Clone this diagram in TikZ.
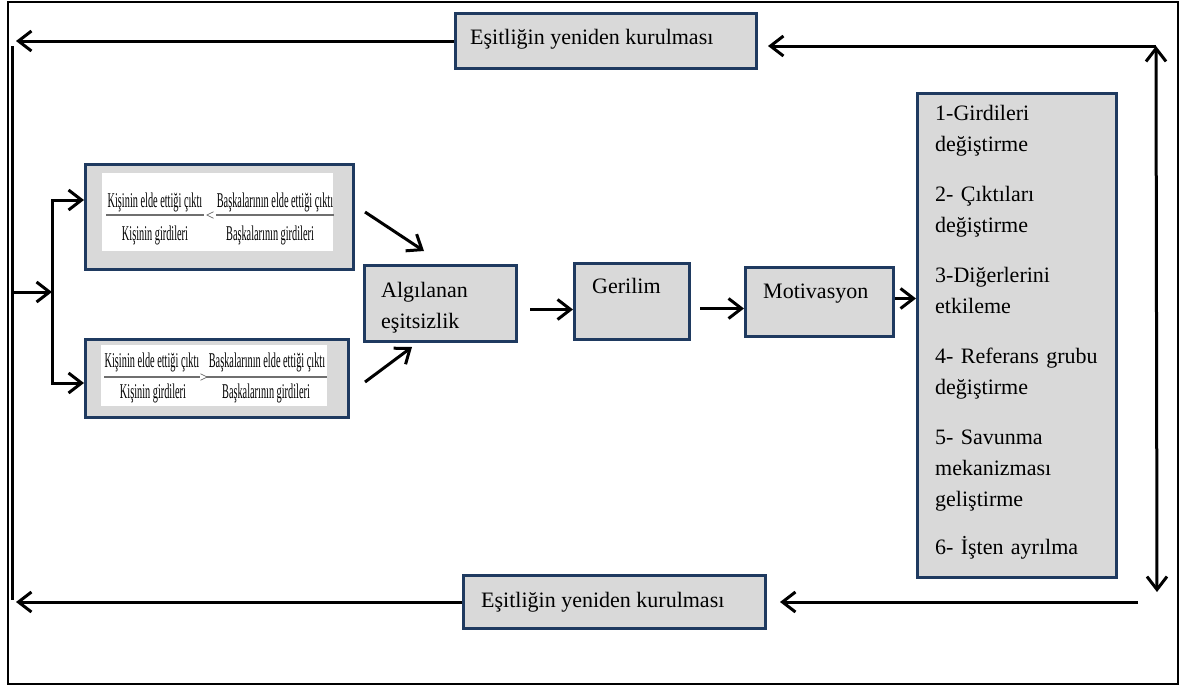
\documentclass[tikz,border=0pt]{standalone}
\usepackage{fontspec}
\setmainfont{Liberation Serif}
\newfontfamily\condfont[FakeStretch=0.49]{Liberation Serif}
\usetikzlibrary{arrows.meta}
\definecolor{boxfill}{HTML}{D9D9D9}
\definecolor{boxline}{HTML}{1F3A60}
\definecolor{barline}{HTML}{6F6F6F}
\tikzset{
  box/.style={draw=boxline, fill=boxfill, line width=3pt, anchor=north west, inner sep=0pt},
  lbl/.style={anchor=base west, inner sep=0pt, font=\fontsize{22}{31}\selectfont},
  tip/.tip={Straight Barb[length=13pt,width=20pt]},
  arr/.style={line width=3pt, -tip},
  dblarr/.style={line width=3pt, tip-tip},
  ln/.style={line width=3pt},
  frac/.style={inner sep=0pt, anchor=base, text=black, font=\condfont\fontsize{21}{20}\selectfont},
  rel/.style={inner sep=0pt, anchor=center, text=black!75, font=\fontsize{15}{15}\selectfont},
  fbar/.style={draw=barline, line width=2pt},
}
\begin{document}
\begin{tikzpicture}[x=1pt, y=-1pt]
\useasboundingbox (0,0) rectangle (1181,686);
% outer frame
\draw[line width=2pt] (8,2) rectangle (1178,684);

% boxes
\node[box, minimum width=301pt, minimum height=55pt] (top) at (454,12) {};
\node[box, minimum width=302pt, minimum height=53pt] (bot) at (462,574) {};
\node[box, minimum width=268pt, minimum height=105pt] (box1) at (84,163) {};
\node[box, minimum width=263pt, minimum height=78pt] (box2) at (84,338) {};
\node[box, minimum width=152pt, minimum height=76pt] (alg) at (363,264) {};
\node[box, minimum width=115pt, minimum height=76pt] (ger) at (573,262) {};
\node[box, minimum width=148pt, minimum height=69pt] (mot) at (744,266) {};
\node[box, minimum width=199pt, minimum height=484pt] (res) at (916,92) {};

% box texts
\node[lbl] (toptxt) at (470,44) {Eşitliğin yeniden kurulması};
\node[lbl] (bottxt) at (481,607) {Eşitliğin yeniden kurulması};
\node[lbl, text width=125pt, align=left] (algtxt) at (381,297) {Algılanan\\eşitsizlik};
\node[lbl] (gertxt) at (592,293) {Gerilim};
\node[lbl] (mottxt) at (763,298) {Motivasyon};
\node[lbl, text width=175pt, align=left] (restxt) at (935,120)
  {1-Girdileri\\değiştirme\\[19pt]
   2- Çıktıları\\değiştirme\\[19pt]
   3-Diğerlerini\\etkileme\\[19pt]
   4- Referans grubu\\değiştirme\\[19pt]
   5- Savunma\\mekanizması\\geliştirme\\[17pt]
   6- İşten ayrılma};

% equity comparison inserts
\fill[white] (102,173) rectangle (333,251);
\node[frac] (n1a) at (155,207) {Kişinin elde ettiği çıktı};
\node[frac] (d1a) at (155,240) {Kişinin girdileri};
\draw[fbar] (106,215) -- (204,215);
\node[rel] (lt) at (210,216) {<};
\node[frac] (n1b) at (275,207) {Başkalarının elde ettiği çıktı};
\node[frac] (d1b) at (270,240) {Başkalarının girdileri};
\draw[fbar] (216,215) -- (334,215);

\fill[white] (101,345) rectangle (327,406);
\node[frac] (n2a) at (152,367) {Kişinin elde ettiği çıktı};
\node[frac] (d2a) at (153,398) {Kişinin girdileri};
\draw[fbar] (104,377) -- (200,377);
\node[rel] (gt) at (204,378) {>};
\node[frac] (n2b) at (267,367) {Başkalarının elde ettiği çıktı};
\node[frac] (d2b) at (266,398) {Başkalarının girdileri};
\draw[fbar] (206,377) -- (327,377);

% free ends of the feedback loop
\coordinate (tl) at (16,42);
\coordinate (lvtop) at (12,46);
\coordinate (lvbot) at (12,600);
\coordinate (bmid) at (52,292);
\coordinate (b1) at (52,200);
\coordinate (b2) at (52,383);
\coordinate (rvt) at (1156,46);
\coordinate (rvb) at (1157,592);
\coordinate (brs) at (1138,602);
\coordinate (d1s) at (365,212);
\coordinate (d1e) at (424,251);
\coordinate (d2s) at (365,382);
\coordinate (d2e) at (412,347);

% feedback loop
\draw[arr] (top.west) -- (top.west -| tl);
\draw[ln] (lvtop) -- (lvbot);
\draw[arr] (bot.west) -- (bot.west -| tl);
\draw[arr] (bmid -| lvtop) -- (bmid);
\draw[arr] (b2) -- (b1) -- (b1 -| box1.west);
\draw[arr] (b1) -- (b2) -- (b2 -| box2.west);
\draw[dblarr] (rvt) -- (rvb);
\draw[arr, shorten >=10pt] (rvt) -- (rvt -| top.east);
\draw[arr, shorten >=13pt] (brs) -- (brs -| bot.east);

% main flow
\draw[arr] (d1s) -- (d1e);
\draw[arr] (d2s) -- (d2e);
\draw[arr, shorten <=12pt] ([yshift=-6pt]alg.east) -- ([yshift=-6pt]alg.east -| ger.west);
\draw[arr, shorten <=9pt] ([yshift=-7pt]ger.east) -- ([yshift=-7pt]ger.east -| mot.west);
\draw[arr] ([yshift=3.5pt]mot.east) -- ([yshift=3.5pt]mot.east -| res.west);
\end{tikzpicture}
\end{document}
